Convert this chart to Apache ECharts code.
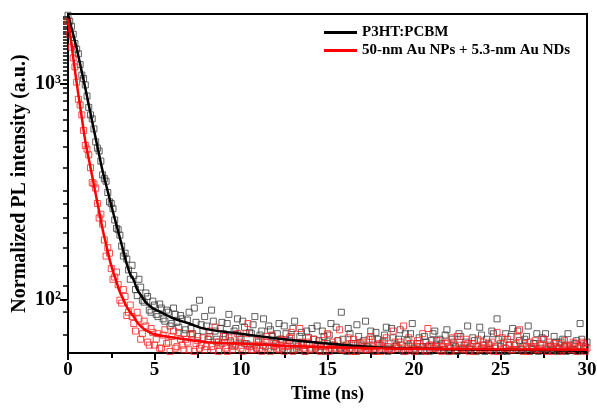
<!DOCTYPE html>
<html>
<head>
<meta charset="utf-8">
<script src="https://cdn.jsdelivr.net/npm/echarts@6/dist/echarts.min.js"></script>
<style>
html,body{margin:0;padding:0;background:#fff;}
#chart{width:597px;height:409px;}
</style>
</head>
<body>
<div id="chart"></div>
<script>
// ---- Data ----
const seriesNames = ['P3HT:PCBM', '50-nm Au NPs + 5.3-nm Au NDs'];

const sampleTimes = [
0,0.2,0.4,0.6,0.8,1,1.2,1.4,1.6,1.8,2,2.2,2.4,2.6,2.8,3,3.2,3.4,3.6,3.8,
4,4.2,4.4,4.6,4.8,5,5.2,5.4,5.6,5.8,6,6.2,6.4,6.6,6.8,7,7.2,7.4,7.6,7.8,
8,8.2,8.4,8.6,8.8,9,9.2,9.4,9.6,9.8,10,10.2,10.4,10.6,10.8,11,11.2,11.4,11.6,11.8,
12,12.2,12.4,12.6,12.8,13,13.2,13.4,13.6,13.8,14,14.2,14.4,14.6,14.8,15,15.2,15.4,15.6,15.8,
16,16.2,16.4,16.6,16.8,17,17.2,17.4,17.6,17.8,18,18.2,18.4,18.6,18.8,19,19.2,19.4,19.6,19.8,
20,20.2,20.4,20.6,20.8,21,21.2,21.4,21.6,21.8,22,22.2,22.4,22.6,22.8,23,23.2,23.4,23.6,23.8,
24,24.2,24.4,24.6,24.8,25,25.2,25.4,25.6,25.8,26,26.2,26.4,26.6,26.8,27,27.2,27.4,27.6,27.8,
28,28.2,28.4,28.6,28.8,29,29.2,29.4,29.6,29.8,30
];

const sampleTimesB = [
0.1,0.3,0.5,0.7,0.9,1.1,1.3,1.5,1.7,1.9,2.1,2.3,2.5,2.7,2.9,3.1,3.3,3.5,3.7,3.9,
4.1,4.3,4.5,4.7,4.9,5.1,5.3,5.5,5.7,5.9,6.1,6.3,6.5,6.7,6.9,7.1,7.3,7.5,7.7,7.9,
8.1,8.3,8.5,8.7,8.9,9.1,9.3,9.5,9.7,9.9,10.1,10.3,10.5,10.7,10.9,11.1,11.3,11.5,11.7,11.9,
12.1,12.3,12.5,12.7,12.9,13.1,13.3,13.5,13.7,13.9,14.1,14.3,14.5,14.7,14.9,15.1,15.3,15.5,15.7,15.9,
16.1,16.3,16.5,16.7,16.9,17.1,17.3,17.5,17.7,17.9,18.1,18.3,18.5,18.7,18.9,19.1,19.3,19.5,19.7,19.9,
20.1,20.3,20.5,20.7,20.9,21.1,21.3,21.5,21.7,21.9,22.1,22.3,22.5,22.7,22.9,23.1,23.3,23.5,23.7,23.9,
24.1,24.3,24.5,24.7,24.9,25.1,25.3,25.5,25.7,25.9,26.1,26.3,26.5,26.7,26.9,27.1,27.3,27.5,27.7,27.9,
28.1,28.3,28.5,28.7,28.9,29.1,29.3,29.5,29.7,29.9
];

const blackPoints = [
2080,1850,1540,1380,1100,990,780,690,540,490,380,355,285,265,215,200,160,155,125,130,
105,115,98,104,88,95,84,92,80,88,78,86,75,82,73,88,70,79,100,72,
76,68,80,66,74,70,78,64,72,82,66,75,62,70,84,64,72,61,76,68,
63,78,60,70,65,74,60,68,63,72,59,66,76,61,68,63,78,59,65,88,
60,74,63,58,68,62,80,60,66,71,59,64,75,60,67,62,73,58,65,70,
60,63,58,68,61,65,72,59,63,69,58,66,61,70,59,64,60,67,58,75,
62,66,59,70,82,61,64,58,68,62,72,59,66,76,60,63,58,67,70,61,
59,64,60,66,58,62,59,65,78,60,64
];

const blackPointsB = [
1950,1700,1450,1230,1060,880,720,620,505,440,365,315,280,235,212,178,165,138,145,112,
125,100,108,90,99,86,96,82,90,76,92,79,85,70,81,74,92,68,77,84,
66,90,72,64,79,68,86,62,74,67,80,63,71,77,60,69,82,65,73,61,
70,66,76,59,68,80,62,71,58,67,74,60,65,72,58,69,62,75,60,66,
58,70,63,77,59,65,61,72,58,66,62,69,58,74,61,66,59,70,62,78,
58,67,61,64,58,70,62,66,59,73,60,64,58,68,62,76,59,65,61,69,
58,63,72,60,66,58,70,62,74,59,65,61,68,58,63,70,60,66,59,62,
68,58,64,61,70,59,63,58,66,61
];

const redPoints = [
1950,1480,1200,850,720,520,470,350,330,240,225,160,165,125,135,100,112,85,95,78,
88,66,80,64,74,62,70,60,73,64,68,60,71,62,66,59,69,63,60,67,
61,72,59,64,62,68,58,65,61,70,60,63,78,59,62,66,58,64,60,69,
62,59,65,61,67,58,63,74,60,64,59,66,61,58,63,70,60,62,65,59,
61,67,58,63,60,64,59,66,61,58,63,60,67,59,72,61,64,76,60,63,
58,65,61,59,74,62,60,65,58,63,61,67,59,62,60,66,58,63,61,59,
64,60,62,58,71,63,60,66,59,62,68,60,63,58,61,65,59,62,60,64,
58,61,63,59,62,60,64,58,61,63,60
];

const redPointsB = [
1700,1320,1020,800,610,500,410,345,280,250,190,175,140,128,118,97,104,88,84,72,
82,70,76,62,71,66,60,69,63,58,72,61,66,59,64,70,58,65,62,59,
66,61,75,58,63,60,67,59,62,64,58,70,61,59,65,60,62,68,58,63,
60,66,58,62,71,59,61,64,58,67,60,62,59,65,61,58,64,60,73,59,
62,60,66,58,63,61,59,68,60,62,58,65,61,59,64,60,62,58,67,61,
59,63,70,58,62,60,65,59,61,64,58,62,68,60,59,63,61,58,66,60,
62,59,64,61,58,67,60,62,59,63,73,58,61,64,60,59,62,66,58,61,
63,60,58,65,61,59,62,60,64,58
];

const blackFitTimes = [0,0.2,0.4,0.6,0.8,1,1.2,1.4,1.6,1.8,2,2.2,2.4,2.6,2.8,3,3.2,3.4,3.6,3.8,4,4.2,4.4,4.6,4.8,5,5.5,6,7,8,10,12,15,18,22,26,30];
const blackFitValues = [2100,1820,1578,1349,1135,958,800,670,561,471,396,342,296,256,223,194,169,147,132,124,112,106,100,96,93,91,87,83,78,73.5,70,66.7,63,60.5,59.4,58.8,58.4];

const redFitTimes = [0,0.2,0.4,0.6,0.8,1,1.2,1.4,1.6,1.8,2,2.2,2.4,2.6,2.8,3,3.2,3.4,3.6,3.8,4,4.2,4.4,4.6,4.8,5,6,8,10,14,18,24,30];
const redFitValues = [2000,1524,1159,893,698,545,451,374,310,257,213,182,155,136,122,109,101,93,88,84,79,76,73.5,72,70.5,69.6,67.4,64,63,61,60,59.3,59];

const xTicks = [0, 5, 10, 15, 20, 25, 30];
const xMinorTicks = [2.5, 7.5, 12.5, 17.5, 22.5, 27.5];
const yMajorTicks = [100, 1000];
const yMinorTicks = [69, 88, 117, 145, 175, 205, 240, 280, 320, 410, 510, 610, 680, 760, 840, 910, 960,
  1050, 1100, 1150, 1200, 1250, 1300, 1350, 1400, 1450, 1500, 1550, 1600, 1650, 1700, 1750, 1800, 1850, 1900, 1950, 2000, 2050];
const yTickLabels = {100: '{b|10}{s|2}', 1000: '{b|10}{s|3}'};

// ---- Build chart ----
function pairs(t, v) { return t.map((x, i) => [x, v[i]]); }

const chart = echarts.init(document.getElementById('chart'), null, {renderer: 'canvas'});
const fontFam = '"Liberation Serif", "Times New Roman", serif';
const yMin = 57, yMax = 2108;

chart.setOption({
  animation: false,
  backgroundColor: '#fff',
  grid: {left: 68, right: 10, top: 14, bottom: 56, containLabel: false, outerBoundsMode: 'none',
         show: true, borderColor: '#000', borderWidth: 2, backgroundColor: 'transparent'},
  legend: {
    data: seriesNames.map(n => ({name: n, icon: 'rect'})),
    orient: 'vertical',
    left: 319, top: 20,
    itemWidth: 33, itemHeight: 3, itemGap: 3,
    textStyle: {fontFamily: fontFam, fontWeight: 'bold', fontSize: 15, color: '#000'}
  },
  xAxis: [{
    type: 'value', min: xTicks[0], max: xTicks[xTicks.length - 1], interval: 5,
    name: 'Time (ns)', nameLocation: 'middle', nameGap: 32,
    nameTextStyle: {fontFamily: fontFam, fontWeight: 'bold', fontSize: 18, color: '#000'},
    axisLine: {lineStyle: {color: '#000', width: 2}},
    axisTick: {length: 7, lineStyle: {color: '#000', width: 2}},
    splitLine: {show: false},
    axisLabel: {fontFamily: fontFam, fontWeight: 'bold', fontSize: 19, color: '#000', margin: 8}
  }, {
    type: 'value', min: xTicks[0], max: xTicks[xTicks.length - 1], position: 'bottom',
    axisLine: {show: false},
    axisTick: {show: true, length: 5, customValues: xMinorTicks, lineStyle: {color: '#000', width: 2}},
    axisLabel: {show: false}, splitLine: {show: false}
  }],
  yAxis: [{
    type: 'log', logBase: 10, min: yMin, max: yMax, splitNumber: 2,
    name: 'Normalized PL intensity (a.u.)', nameLocation: 'middle', nameGap: 38, nameMoveOverlap: false,
    nameTextStyle: {fontFamily: fontFam, fontWeight: 'bold', fontSize: 20, color: '#000'},
    axisLine: {lineStyle: {color: '#000', width: 2}},
    axisTick: {length: 8, customValues: yMajorTicks, lineStyle: {color: '#000', width: 2}},
    splitLine: {show: false},
    axisLabel: {
      margin: 7,
      customValues: yMajorTicks,
      formatter: function (v) { const r = Math.round(v); return yTickLabels[r] || ''; },
      rich: {
        b: {fontFamily: fontFam, fontWeight: 'bold', fontSize: 20, color: '#000'},
        s: {fontFamily: fontFam, fontWeight: 'bold', fontSize: 12, color: '#000', verticalAlign: 'top', padding: [0, 0, 9, 0]}
      }
    }
  }, {
    type: 'log', logBase: 10, min: yMin, max: yMax, position: 'left',
    axisLine: {show: false},
    axisTick: {show: true, length: 5, customValues: yMinorTicks, lineStyle: {color: '#000', width: 1.5}},
    axisLabel: {show: false}, splitLine: {show: false}
  }],
  series: [
    {
      name: 'P3HT:PCBM data', type: 'scatter', symbol: 'rect', symbolSize: 6,
      data: pairs(sampleTimes, blackPoints).concat(pairs(sampleTimesB, blackPointsB)),
      itemStyle: {color: 'rgba(255,255,255,0)', borderColor: '#3a3a3a', borderWidth: 1}, z: 2
    },
    {
      name: 'Au data', type: 'scatter', symbol: 'rect', symbolSize: 6,
      data: pairs(sampleTimes, redPoints).concat(pairs(sampleTimesB, redPointsB)),
      itemStyle: {color: 'rgba(255,255,255,0)', borderColor: '#ff2020', borderWidth: 1}, z: 2
    },
    {
      name: seriesNames[0], type: 'line', smooth: true, showSymbol: false, symbol: 'none',
      data: pairs(blackFitTimes, blackFitValues),
      lineStyle: {color: '#000', width: 2.5}, itemStyle: {color: '#000'}, z: 3
    },
    {
      name: seriesNames[1], type: 'line', smooth: true, showSymbol: false, symbol: 'none',
      data: pairs(redFitTimes, redFitValues),
      lineStyle: {color: '#ff0000', width: 2.5}, itemStyle: {color: '#ff0000'}, z: 4
    }
  ]
});
</script>
</body>
</html>
